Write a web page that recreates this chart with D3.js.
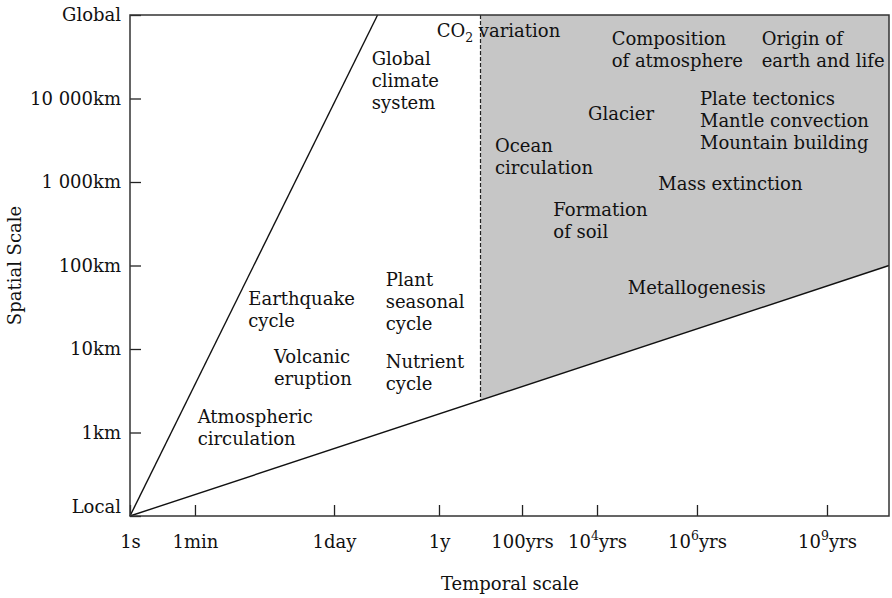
<!DOCTYPE html>
<html>
<head>
<meta charset="utf-8">
<script src="https://cdn.jsdelivr.net/npm/d3@7"></script>
<style>
  html, body { margin: 0; padding: 0; background: #fff; }
  svg text { font-family: "DejaVu Serif", "Liberation Serif", serif; fill: #111; }
</style>
</head>
<body>
<svg id="chart" width="892" height="598"></svg>
<script>
// Spatial axis (km): tick values and their labels
const spatialTicks = [0.1, 1, 10, 100, 1000, 10000, 100000];
const spatialLabels = ["Local", "1km", "10km", "100km", "1 000km", "10 000km", "Global"];

// Temporal axis (seconds): tick values and their labels ("^" marks a superscript)
const temporalTicks = [1, 60, 86400, 3.156e7, 3.156e9, 3.156e11, 3.156e13, 3.156e16];
const temporalLabels = ["1s", "1min", "1day", "1y", "100yrs", "10^4yrs", "10^6yrs", "10^9yrs"];
const temporalEnd = 1e18;

// Boundary lines of the scale domain (seconds, km)
const upperBoundary = [{ t: 1, km: 0.1 }, { t: 1e6, km: 1e5 }];
const lowerBoundary = [{ t: 1, km: 0.1 }, { t: temporalEnd, km: 100 }];
// Time (s) separating short-term processes from geological ones: ~10 years
const geologicalFrom = 3.156e8;

// Processes: name lines, characteristic time (s) and extent (km)
const processNames = [
  ["Global", "climate", "system"],
  ["CO_2 variation"],
  ["Composition", "of atmosphere"],
  ["Origin of", "earth and life"],
  ["Glacier"],
  ["Plate tectonics", "Mantle convection", "Mountain building"],
  ["Mass extinction"],
  ["Ocean", "circulation"],
  ["Formation", "of soil"],
  ["Metallogenesis"],
  ["Earthquake", "cycle"],
  ["Plant", "seasonal", "cycle"],
  ["Volcanic", "eruption"],
  ["Nutrient", "cycle"],
  ["Atmospheric", "circulation"]
];
const processTimes = [7.2e5, 2.77e7, 6.2e11, 9.8e14, 1.82e11, 3.7e13, 5.3e12, 7.05e8, 2.16e10, 1.3e12, 975, 1.58e6, 3740, 1.58e6, 69];
const processExtents = [2.5e4, 5.4e4, 4.4e4, 4.4e4, 5.5e3, 8.4e3, 800, 2.3e3, 390, 45, 34, 57, 6.75, 5.87, 1.29];

// ---- layout ----
const margin = { left: 130, top: 15, right: 3, bottom: 82 };
const svg = d3.select("#chart");
const W = +svg.attr("width") - margin.left - margin.right;
const H = +svg.attr("height") - margin.top - margin.bottom;
// the time axis is schematic: each labelled tick sits at its own fraction of the width
const timeStops = [0, 0.0856, 0.2688, 0.4071, 0.5165, 0.6153, 0.7470, 0.9183, 1];
const fontSize = 18;
const lineGap = 22;

const x = d3.scaleLog().domain([...temporalTicks, temporalEnd]).range(timeStops.map(f => f * W));
const y = d3.scaleLog().domain([0.1, 1e5]).range([H, 0]);

const g = svg.append("g").attr("transform", `translate(${margin.left},${margin.top})`);

// Shaded geological region: right of the divider, above the lower boundary
const p0 = [x(lowerBoundary[0].t), y(lowerBoundary[0].km)];
const p1 = [x(lowerBoundary[1].t), y(lowerBoundary[1].km)];
const xd = x(geologicalFrom);
const yd = p0[1] + (p1[1] - p0[1]) * (xd - p0[0]) / (p1[0] - p0[0]);
g.append("path")
  .attr("d", d3.line()([[xd, y(1e5)], [x(temporalEnd), y(1e5)], [x(temporalEnd), y(100)], [xd, yd]]) + "Z")
  .attr("fill", "#c6c6c6");

// Dashed divider
g.append("line")
  .attr("x1", xd).attr("x2", xd).attr("y1", y(1e5)).attr("y2", yd)
  .attr("stroke", "#222").attr("stroke-width", 1.2).attr("stroke-dasharray", "4,2");

// Boundary lines
const boundaryLine = d3.line().x(d => x(d.t)).y(d => y(d.km));
[upperBoundary, lowerBoundary].forEach(b => {
  g.append("path").attr("d", boundaryLine(b))
    .attr("fill", "none").attr("stroke", "#111").attr("stroke-width", 1.4);
});

// Axes
const yAxis = g.append("g")
  .call(d3.axisLeft(y).tickValues(spatialTicks).tickSize(-11).tickPadding(9)
    .tickFormat((d, i) => spatialLabels[i]));
const xAxis = g.append("g").attr("transform", `translate(0,${H})`)
  .call(d3.axisBottom(x).tickValues(temporalTicks).tickSize(-11).tickPadding(19)
    .tickFormat((d, i) => temporalLabels[i]));

[yAxis, xAxis].forEach(a => {
  a.select(".domain").remove();
  a.selectAll(".tick line").attr("stroke", "#222").attr("stroke-width", 1.3);
  a.selectAll(".tick text").attr("font-size", fontSize).attr("font-family", null).attr("fill", "#111");
});
// the bottom label rests on the base line
yAxis.selectAll(".tick text").filter(d => d === 0.1).attr("dy", "-0.2em");

// superscripted exponents in the time labels
xAxis.selectAll(".tick text").each(function () {
  const s = d3.select(this);
  const txt = s.text();
  if (!txt.includes("^")) return;
  const m = txt.match(/^(\d+)\^(\d+)(.*)$/);
  s.text(null);
  s.append("tspan").text(m[1]);
  s.append("tspan").attr("font-size", 12.5).attr("dy", -8).text(m[2]);
  s.append("tspan").attr("dy", 8).text(m[3]);
});

// Frame
g.append("rect").attr("width", W).attr("height", H)
  .attr("fill", "none").attr("stroke", "#333").attr("stroke-width", 1.5);

// Process labels
processNames.forEach((lines, i) => {
  const t = g.append("text")
    .attr("x", x(processTimes[i]))
    .attr("y", y(processExtents[i]))
    .attr("font-size", fontSize);
  lines.forEach((line, j) => {
    const dy = j === 0 ? 0 : lineGap;
    if (line.includes("_")) {
      const [pre, rest] = line.split("_");
      const sub = rest.charAt(0);
      const post = rest.slice(1);
      t.append("tspan").attr("x", x(processTimes[i])).attr("dy", dy).text(pre);
      t.append("tspan").attr("font-size", 12.5).attr("dy", 5).text(sub);
      t.append("tspan").attr("dy", -5).text(post);
    } else {
      t.append("tspan").attr("x", x(processTimes[i])).attr("dy", dy).text(line);
    }
  });
});

// Axis titles
svg.append("text")
  .attr("transform", `translate(21,${margin.top + H / 2}) rotate(-90)`)
  .attr("text-anchor", "middle").attr("font-size", fontSize)
  .text("Spatial Scale");
svg.append("text")
  .attr("x", 510).attr("y", 590)
  .attr("text-anchor", "middle").attr("font-size", fontSize)
  .text("Temporal scale");
</script>
</body>
</html>
